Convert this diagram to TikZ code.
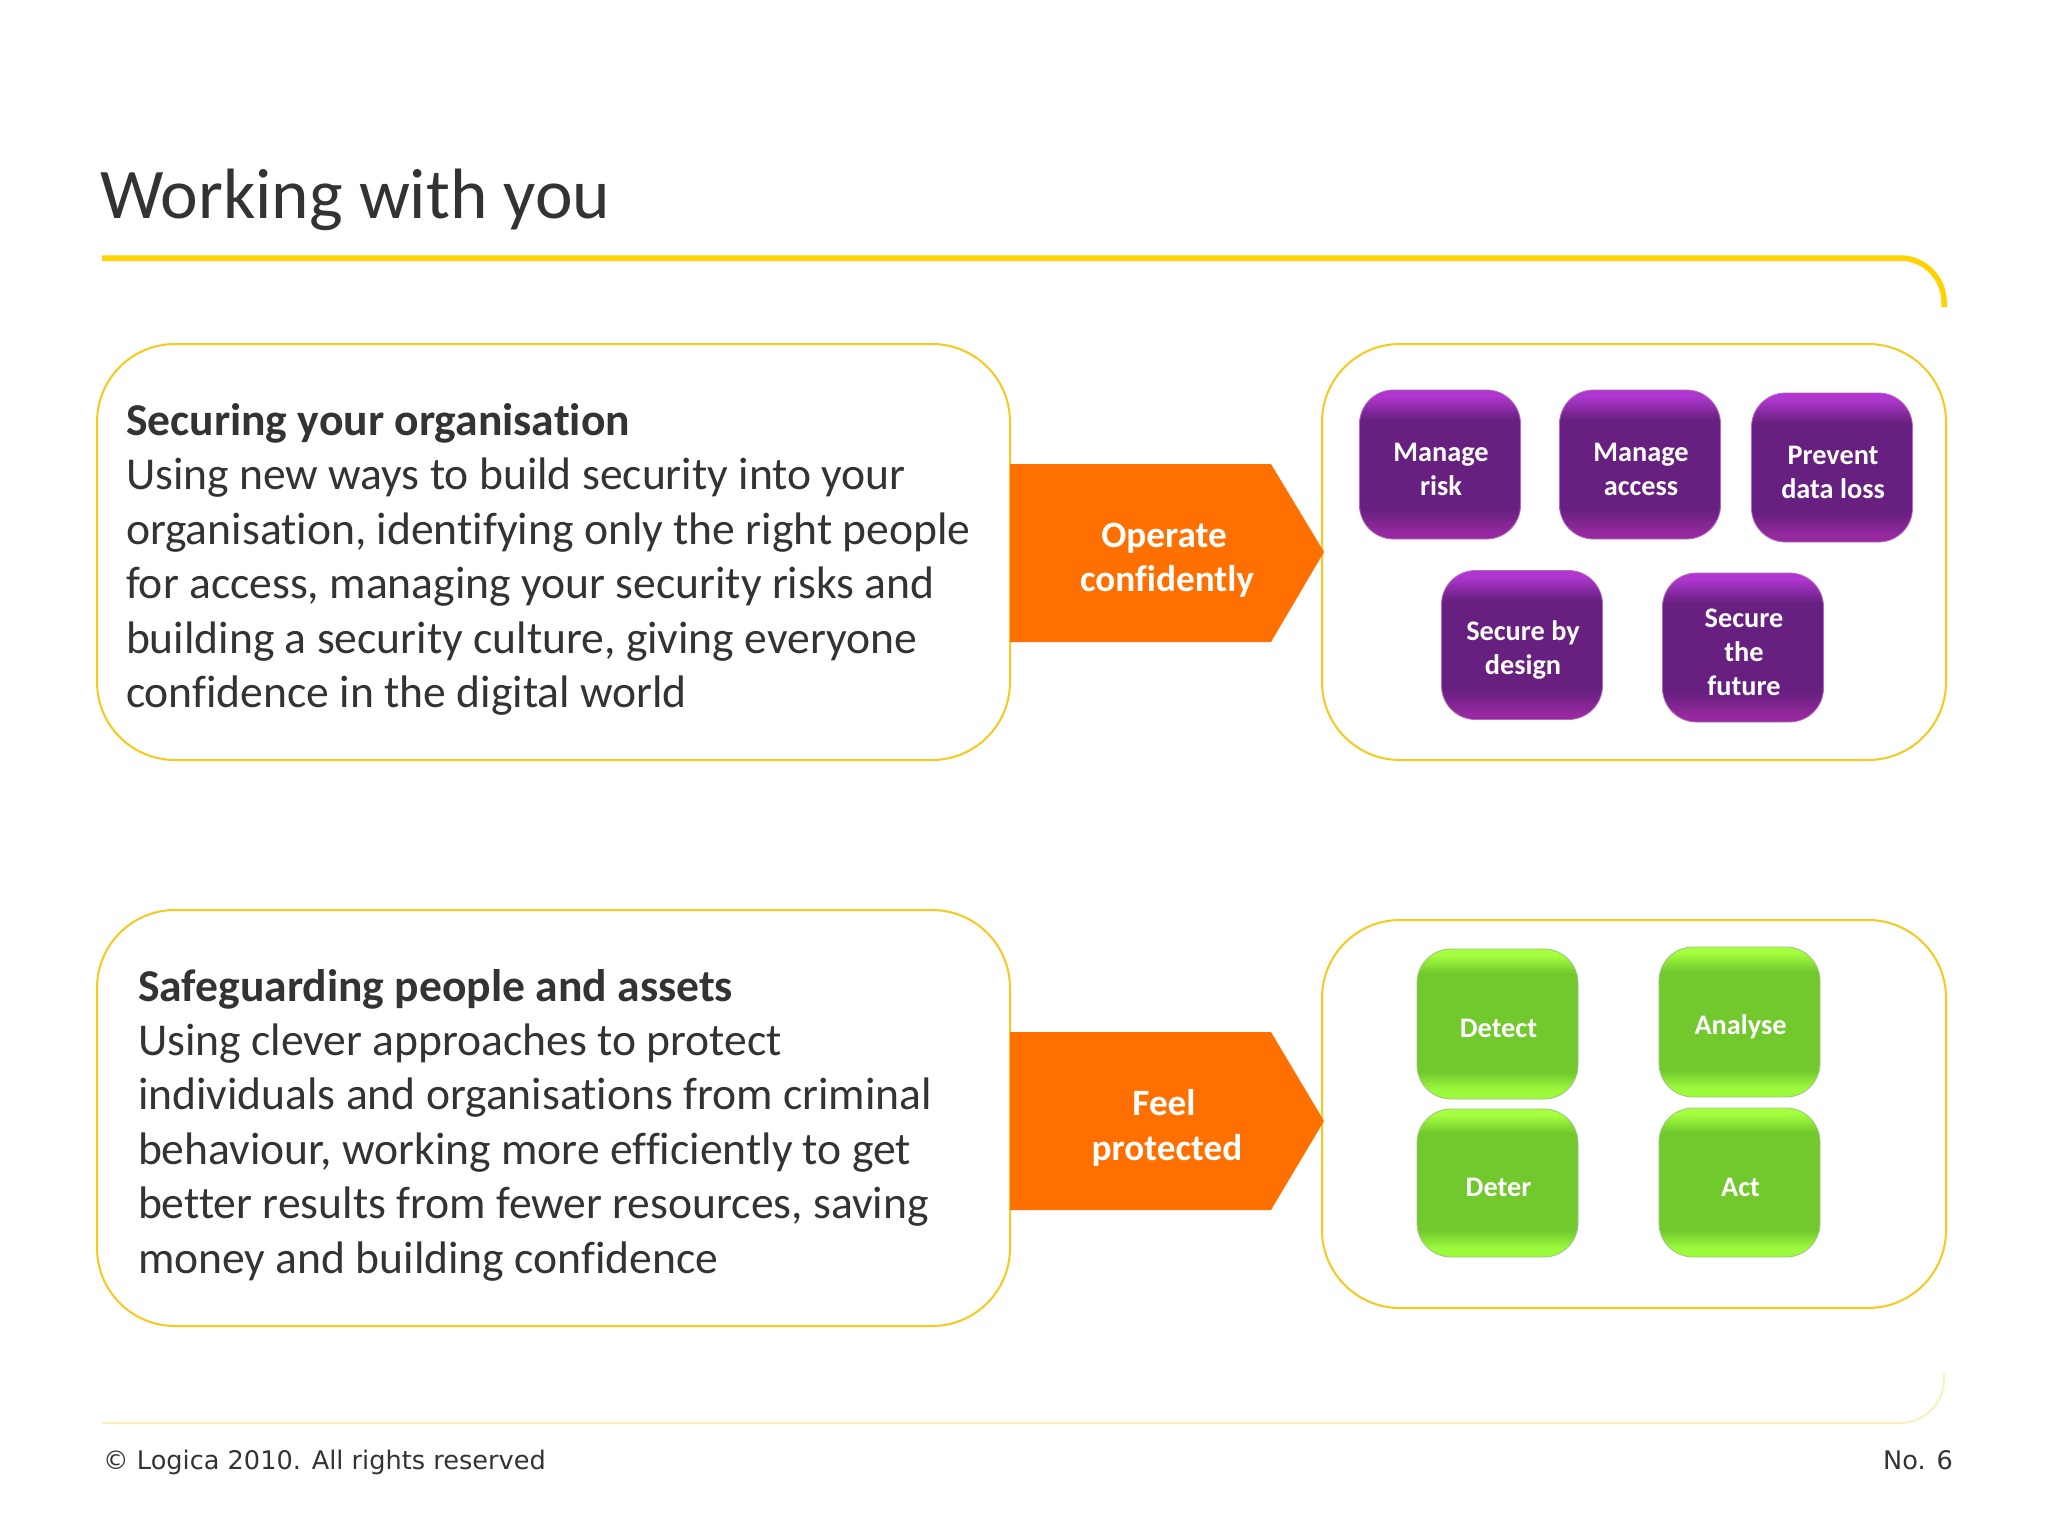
\documentclass[tikz,border=0pt]{standalone}
\usepackage{fontspec}
\setmainfont{Carlito}[Ligatures=CommonOff]
\newfontfamily\footfont{DejaVu Sans}
\usepackage{xcolor}
\definecolor{textgrey}{HTML}{333333}
\definecolor{rulegold}{HTML}{FFD200}
\definecolor{rulepale}{HTML}{FBEFC0}
\definecolor{boxgold}{HTML}{F7C81E}
\definecolor{arroworange}{HTML}{FF7000}
\definecolor{purplemid}{HTML}{67207F}
\definecolor{purpletop}{HTML}{B036D0}
\definecolor{purplelow}{HTML}{96299F}
\definecolor{greenmid}{HTML}{72C92E}
\definecolor{greentop}{HTML}{A4FF3E}
\definecolor{greenlow}{HTML}{9CFA3C}
% the box covers 25bp to 75bp of the shading
\pgfdeclareverticalshading{purpleshade}{100bp}{color(0bp)=(purplelow);color(27bp)=(purplelow);color(35bp)=(purplemid);color(65bp)=(purplemid);color(73bp)=(purpletop);color(100bp)=(purpletop)}
\pgfdeclareverticalshading{greenshade}{100bp}{color(0bp)=(greenlow);color(28bp)=(greenlow);color(34bp)=(greenmid);color(67bp)=(greenmid);color(73bp)=(greentop);color(100bp)=(greentop)}
\tikzset{
	outerbox/.style={draw=boxgold,line width=2pt,fill=white,rounded corners=78pt,inner sep=0pt,outer sep=0pt},
	smallbox/.style={rounded corners=34pt,inner sep=0pt,outer sep=0pt,minimum width=161pt},
	boxtext/.style={inner sep=0pt,text=white,align=center,xshift=1pt,yshift=-4.5pt,
		font=\fontsize{28.3}{34}\selectfont\bfseries},
	purplebox/.style={smallbox,shading=purpleshade,draw=purplelow!70!white,line width=0.8pt,minimum height=149pt},
	greenbox/.style={smallbox,shading=greenshade,draw=greenmid!40!lightgray,line width=0.8pt},
	bodytext/.style={anchor=north west,inner sep=0pt,outer sep=0pt,align=left,text=textgrey,
		font=\fontsize{45.6}{54.4}\selectfont},
	arrowtext/.style={inner sep=0pt,text=white,align=center,font=\fontsize{37.2}{44.4}\selectfont\bfseries},
	foottext/.style={inner sep=0pt,text=textgrey,font=\fontsize{25.6}{30}\footfont},
}
\begin{document}
\begin{tikzpicture}[x=1pt,y=-1pt]
	\useasboundingbox (0,0) rectangle (2048,1536);
	\fill[white] (0,0) rectangle (2048,1536);
	\node[anchor=base west,inner sep=0pt,text=textgrey,font=\fontsize{71.3}{80}\selectfont] (title) at (100,218) {Working with you};
	\draw[rulegold,line width=5.5pt] (102,258)--(1900,258) arc (-90:0:44)--(1944,307);
	\draw[rulepale,line width=2pt] (102,1423)--(1900,1423) arc (90:0:44)--(1944,1373);

	\node[outerbox,minimum width=913pt,minimum height=416pt] (securebox) at (553.5,552) {};
	\node[outerbox,minimum width=624pt,minimum height=416pt] (secureset) at (1634,552) {};
	\node[outerbox,minimum width=913pt,minimum height=416pt] (safebox) at (553.5,1118) {};
	\node[outerbox,minimum width=624pt,minimum height=388pt] (safeset) at (1634,1114) {};

	\node[bodytext] (securetext) at (126,403.5) {\textbf{Securing your organisation}\\Using new ways to build security into your\\organisation, identifying only the right people\\for access, managing your security risks and\\building a security culture, giving everyone\\confidence in the digital world};
	\node[bodytext] (safetext) at (138,969) {\textbf{Safeguarding people and assets}\\Using clever approaches to protect\\individuals and organisations from criminal\\behaviour, working more efficiently to get\\better results from fewer resources, saving\\money and building confidence};

	\fill[arroworange] (1010,464)--(1271,464)--(1324,552)--(1271,642)--(1010,642)--cycle;
	\fill[arroworange] (1010,1032)--(1271,1032)--(1324,1121)--(1271,1210)--(1010,1210)--cycle;
	\node[arrowtext] (operate) at (1167,560) {Operate\hspace*{6pt}\\confidently};
	\node[arrowtext] (feel) at (1167,1128) {Feel\hspace*{6pt}\\protected};

	\node[purplebox,label={[boxtext]center:Manage\\risk}] (risk) at (1440,464.5) {};
	\node[purplebox,label={[boxtext]center:Manage\\access}] (access) at (1640,464.5) {};
	\node[purplebox,label={[boxtext]center:Prevent\\data loss}] (loss) at (1832,467.5) {};
	\node[purplebox,label={[boxtext]center:Secure by\\design}] (design) at (1522,645) {};
	\node[purplebox,label={[boxtext]center:Secure\\the\\future}] (future) at (1743,647.5) {};

	\node[greenbox,minimum height=150pt,label={[boxtext]center:Detect}] (detect) at (1497.5,1024) {};
	\node[greenbox,minimum height=150pt,label={[boxtext]center:Analyse}] (analyse) at (1739.5,1022) {};
	\node[greenbox,minimum height=148pt,label={[boxtext]center:Deter}] (deter) at (1497.5,1183) {};
	\node[greenbox,minimum height=149pt,label={[boxtext]center:Act}] (act) at (1739.5,1182.5) {};

	\node[foottext,anchor=base west] (rights) at (103,1469) {© Logica 2010. All rights reserved};
	\node[foottext,anchor=base east] (pageno) at (1953,1469) {No. 6};
\end{tikzpicture}
\end{document}
